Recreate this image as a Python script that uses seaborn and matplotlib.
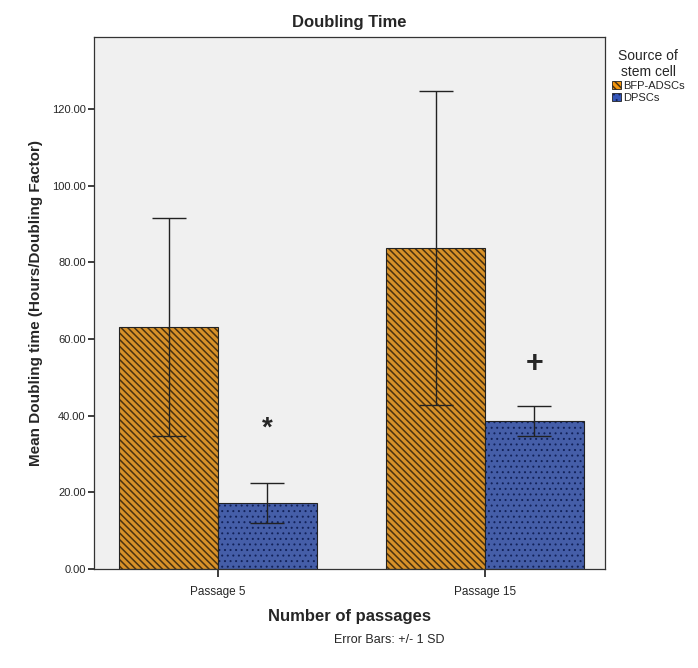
import matplotlib
matplotlib.use("Agg")
import matplotlib.pyplot as plt
import pandas as pd
import seaborn as sns
from matplotlib.colors import to_rgba
from matplotlib.patches import Patch

passages = ["Passage 5", "Passage 15"]
sources = ["BFP-ADSCs", "DPSCs"]
means_adsc = [63.1, 83.7]
sd_adsc = [28.4, 41.0]
means_dpsc = [17.2, 38.6]
sd_dpsc = [5.2, 4.0]
markers = ["*", "+"]

colors = {"BFP-ADSCs": "#F4960C", "DPSCs": "#3556B8"}
hatches = {"BFP-ADSCs": "\\" * 5, "DPSCs": "..."}
hatch_colors = {"BFP-ADSCs": "#4a3210", "DPSCs": "#12225a"}
hatch_lw = {"BFP-ADSCs": 1.1, "DPSCs": 0.7}

df = pd.DataFrame({
    "Passage": passages * 2,
    "Source": [sources[0]] * 2 + [sources[1]] * 2,
    "Mean": means_adsc + means_dpsc,
    "SD": sd_adsc + sd_dpsc,
})

sns.set_theme(style="white")
plt.rcParams["font.family"] = ["Liberation Sans", "DejaVu Sans"]
plt.rcParams["hatch.linewidth"] = 1.0


def style_patch(p, src):
    p.set_hatch(hatches[src])
    p._hatch_color = to_rgba(hatch_colors[src])
    if hasattr(p, "set_hatch_linewidth"):
        p.set_hatch_linewidth(hatch_lw[src])
    else:
        p._hatch_linewidth = hatch_lw[src]


fig = plt.figure(figsize=(6.98, 6.68), dpi=100)
ax = fig.add_axes([94 / 698, 1 - 569 / 668, 511 / 698, 532 / 668])
ax.set_facecolor("#F0F0F0")

sns.barplot(data=df, x="Passage", y="Mean", hue="Source", order=passages,
            hue_order=sources, palette=colors, width=0.74, errorbar=None,
            edgecolor="#222222", linewidth=0.8, legend=False, ax=ax)

for cont, src in zip(ax.containers, sources):
    sub = df[df["Source"] == src].set_index("Passage").loc[passages]
    xs = []
    for bar in cont:
        style_patch(bar, src)
        xs.append(bar.get_x() + bar.get_width() / 2)
    ax.errorbar(xs, sub["Mean"], yerr=sub["SD"], fmt="none", ecolor="#222222",
                elinewidth=1.0, capsize=12, capthick=1.0)
    if src == "DPSCs":
        dpsc_x = xs

ax.text(dpsc_x[0], 36.5, markers[0], ha="center", va="center", fontsize=20,
        fontweight="bold")
ax.text(dpsc_x[1], 53.5, markers[1], ha="center", va="center", fontsize=22,
        fontweight="bold")

ax.set_xlim(-0.464, 1.449)
ax.set_ylim(0, 138.8)
ax.set_yticks([0, 20, 40, 60, 80, 100, 120])
ax.set_yticklabels([f"{v:.2f}" for v in [0, 20, 40, 60, 80, 100, 120]], fontsize=8)
ax.tick_params(axis="x", labelsize=8.5, length=6, direction="out", bottom=True, pad=6)
ax.tick_params(axis="y", length=4, direction="out", left=True, pad=2)
for s in ax.spines.values():
    s.set_color("#333333")
    s.set_linewidth(0.9)

ax.set_xlabel("Number of passages", fontsize=12, fontweight="bold", labelpad=8)
ax.set_ylabel("Mean Doubling time (Hours/Doubling Factor)", fontsize=11,
              fontweight="bold", labelpad=6)
ax.set_title("Doubling Time", fontsize=12, fontweight="bold", pad=7)

handles = []
for s in sources:
    h = Patch(facecolor=colors[s], edgecolor="#222222", linewidth=0.6, label=s)
    style_patch(h, s)
    handles.append(h)
leg = ax.legend(handles=handles, title="Source of\nstem cell", loc="upper left",
                bbox_to_anchor=(1.0, 0.99), frameon=False, fontsize=8,
                title_fontsize=10, handlelength=0.8, handleheight=0.8,
                handletextpad=0.2, borderaxespad=0.2, labelspacing=0.15)
leg.get_title().set_multialignment("center")
leg._legend_box.align = "center"
for h, s in zip(leg.get_patches(), sources):
    style_patch(h, s)

fig.text(0.5 + 40 / 698, 1 - 640 / 668, "Error Bars: +/- 1 SD", ha="center",
         va="center", fontsize=9)

fig.savefig("out.png", dpi=100)
